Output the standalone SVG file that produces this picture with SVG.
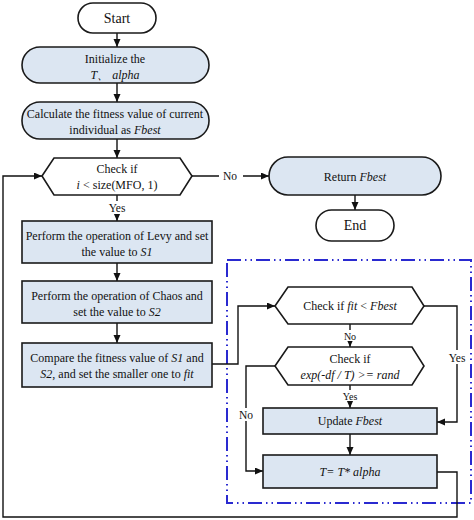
<svg xmlns="http://www.w3.org/2000/svg" width="474" height="520" viewBox="0 0 474 520">
<defs>
<marker id="ah" markerWidth="8" markerHeight="8" refX="8" refY="3.5" orient="auto" markerUnits="userSpaceOnUse">
<path d="M0,0 L8,3.5 L0,7 z" fill="#111"/>
</marker>
<style>
.box{fill:#dce6f2;stroke:#1a1a1a;stroke-width:1.6}
.term{fill:#fff;stroke:#1a1a1a;stroke-width:1.6}
.t{font-family:"Liberation Serif","Times New Roman",serif;font-size:12px;fill:#111;text-anchor:middle}
.big{font-size:14px}
.lbl{font-family:"Liberation Serif","Times New Roman",serif;font-size:11.5px;fill:#111;text-anchor:middle}
.i{font-style:italic}
.c{fill:none;stroke:#111;stroke-width:1.4}
.bg{fill:#fff}
</style>
</defs>
<rect width="474" height="520" fill="#fff"/>

<rect x="227" y="260" width="244" height="243" fill="none" stroke="#2a2ad0" stroke-width="2" stroke-dasharray="14 4 1.5 4 1.5 4"/>

<g id="connectors">
<line class="c" x1="117" y1="33" x2="117" y2="47" marker-end="url(#ah)"/>
<line class="c" x1="117" y1="83" x2="117" y2="102" marker-end="url(#ah)"/>
<line class="c" x1="117" y1="139" x2="117" y2="158" marker-end="url(#ah)"/>
<line class="c" x1="117" y1="195" x2="117" y2="221" marker-end="url(#ah)"/>
<line class="c" x1="117" y1="263" x2="117" y2="281" marker-end="url(#ah)"/>
<line class="c" x1="117" y1="323" x2="117" y2="343" marker-end="url(#ah)"/>
<line class="c" x1="192" y1="176" x2="269" y2="176" marker-end="url(#ah)"/>
<line class="c" x1="355" y1="195" x2="355" y2="210" marker-end="url(#ah)"/>
<path class="c" d="M212,364 H238 V306 H275" marker-end="url(#ah)"/>
<path class="c" d="M424,306 H457 V422 H437" marker-end="url(#ah)"/>
<line class="c" x1="350" y1="324" x2="350" y2="347" marker-end="url(#ah)"/>
<line class="c" x1="350" y1="385" x2="350" y2="408" marker-end="url(#ah)"/>
<path class="c" d="M275,366 H246 V471 H263" marker-end="url(#ah)"/>
<line class="c" x1="350" y1="434" x2="350" y2="455" marker-end="url(#ah)"/>
<path class="c" d="M437,472 H457 V517 H3 V176 H42" stroke-width="2" marker-end="url(#ah)"/>
<rect class="bg" x="106" y="201" width="22" height="13"/>
<text class="lbl" x="117" y="212">Yes</text>
<rect class="bg" x="219" y="170" width="24" height="13"/>
<text class="lbl" x="230" y="180">No</text>
<rect class="bg" x="445" y="350" width="24" height="14"/>
<text class="lbl" x="457" y="362">Yes</text>
<rect class="bg" x="342" y="330" width="16" height="11"/>
<text class="lbl" x="350" y="340" style="font-size:10px">No</text>
<rect class="bg" x="340" y="390" width="20" height="11"/>
<text class="lbl" x="350" y="400" style="font-size:10px">Yes</text>
<rect class="bg" x="236" y="408" width="20" height="13"/>
<text class="lbl" x="246" y="419">No</text>
</g>

<g id="start">
<rect class="term" x="78" y="3" width="78" height="30" rx="15"/>
<text class="t big" x="117" y="23">Start</text>
</g>
<g id="init">
<rect class="box" x="22" y="47" width="187" height="36" rx="18"/>
<text class="t" x="115" y="63">Initialize the</text>
<text class="t i" x="115" y="79">T、 alpha</text>
</g>
<g id="calc">
<rect class="box" x="22" y="102" width="187" height="37" rx="18"/>
<text class="t" x="115" y="118">Calculate the fitness value of current</text>
<text class="t" x="115" y="134">individual as <tspan class="i">Fbest</tspan></text>
</g>
<g id="check1">
<polygon class="term" points="42,176 54,158 180,158 192,176 180,195 54,195"/>
<text class="t" x="117" y="173">Check  if</text>
<text class="t" x="117" y="189"><tspan class="i">i</tspan> &lt;  size(MFO, 1)</text>
</g>
<g id="levy">
<rect class="box" x="22" y="221" width="190" height="42"/>
<text class="t" x="117" y="240">Perform the operation of Levy and set</text>
<text class="t" x="117" y="256">the value to <tspan class="i">S1</tspan></text>
</g>
<g id="chaos">
<rect class="box" x="22" y="281" width="190" height="42"/>
<text class="t" x="117" y="300">Perform the operation of Chaos and</text>
<text class="t" x="117" y="316">set the value to <tspan class="i">S2</tspan></text>
</g>
<g id="compare">
<rect class="box" x="22" y="343" width="190" height="44"/>
<text class="t" x="117" y="362">Compare the fitness value of <tspan class="i">S1</tspan> and</text>
<text class="t" x="117" y="378"><tspan class="i">S2</tspan>, and set the smaller one to <tspan class="i">fit</tspan></text>
</g>
<g id="return">
<rect class="box" x="269" y="157" width="172" height="38" rx="19"/>
<text class="t" x="355" y="181">Return <tspan class="i">Fbest</tspan></text>
</g>
<g id="end">
<rect class="term" x="316" y="210" width="78" height="31" rx="15.5"/>
<text class="t big" x="355" y="230">End</text>
</g>
<g id="checkfit">
<polygon class="term" points="275,306 288,287 412,287 424,306 412,324 288,324"/>
<text class="t" x="350" y="310">Check  if <tspan class="i">fit</tspan> &lt; <tspan class="i">Fbest</tspan></text>
</g>
<g id="checkexp">
<polygon class="term" points="275,366 288,347 412,347 424,366 412,385 288,385"/>
<text class="t" x="350" y="363">Check  if</text>
<text class="t i" x="350" y="379">exp(-df / T) &gt;= rand</text>
</g>
<g id="update">
<rect class="box" x="263" y="408" width="174" height="26"/>
<text class="t" x="350" y="425">Update <tspan class="i">Fbest</tspan></text>
</g>
<g id="tupdate">
<rect class="box" x="263" y="455" width="174" height="33"/>
<text class="t i" x="350" y="476">T= T* alpha</text>
</g>
</svg>
